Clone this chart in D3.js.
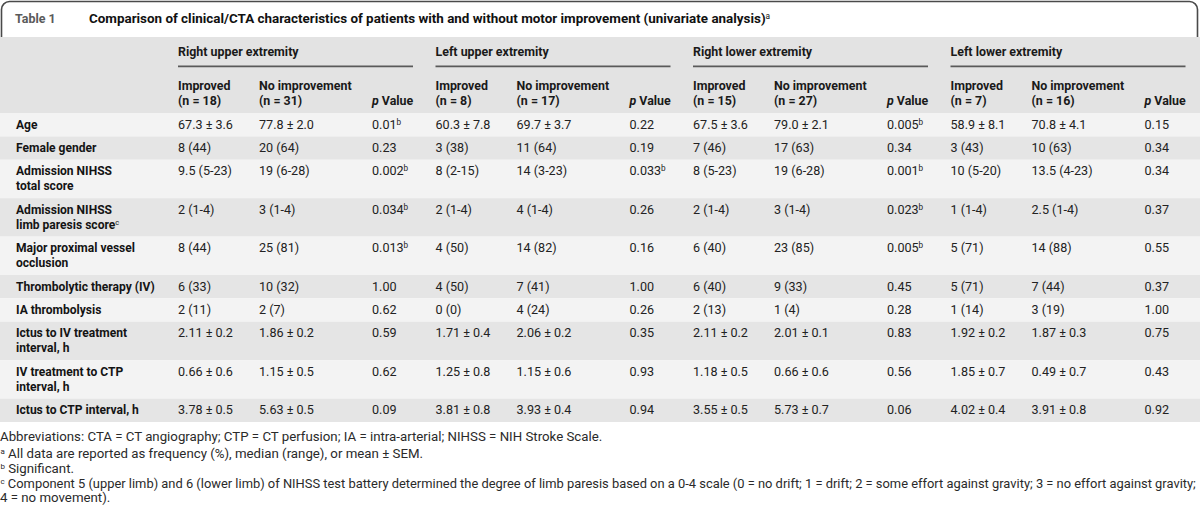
<!DOCTYPE html>
<html><head><meta charset="utf-8">
<script src="https://cdn.jsdelivr.net/npm/d3@7"></script>
<style>
html,body{margin:0;padding:0;background:#fff;}
svg{display:block;}
</style></head>
<body><svg id="chart" width="1200" height="513"></svg>
<script>
// ---------------- data ----------------
const tableLabel = "Table 1";
const titleText = "Comparison of clinical/CTA characteristics of patients with and without motor improvement (univariate analysis)";
const titleSup = "a";
const groups = ["Right upper extremity", "Left upper extremity", "Right lower extremity", "Left lower extremity"];
const groupImprovedN = [18, 8, 15, 7];
const groupNoImprovementN = [31, 17, 27, 16];
const subColumns = ["Improved", "No improvement", "p Value"];
const rowLabels = [
  ["Age"],
  ["Female gender"],
  ["Admission NIHSS", "total score"],
  ["Admission NIHSS", "limb paresis score"],
  ["Major proximal vessel", "occlusion"],
  ["Thrombolytic therapy (IV)"],
  ["IA thrombolysis"],
  ["Ictus to IV treatment", "interval, h"],
  ["IV treatment to CTP", "interval, h"],
  ["Ictus to CTP interval, h"]
];
const rowLabelSup = ["", "", "", "c", "", "", "", "", "", ""];
// each row: [improved, no improvement, p value]; "^b" marks significance
const rightUpper = [
  ["67.3 ± 3.6", "77.8 ± 2.0", "0.01^b"],
  ["8 (44)", "20 (64)", "0.23"],
  ["9.5 (5-23)", "19 (6-28)", "0.002^b"],
  ["2 (1-4)", "3 (1-4)", "0.034^b"],
  ["8 (44)", "25 (81)", "0.013^b"],
  ["6 (33)", "10 (32)", "1.00"],
  ["2 (11)", "2 (7)", "0.62"],
  ["2.11 ± 0.2", "1.86 ± 0.2", "0.59"],
  ["0.66 ± 0.6", "1.15 ± 0.5", "0.62"],
  ["3.78 ± 0.5", "5.63 ± 0.5", "0.09"]
];
const leftUpper = [
  ["60.3 ± 7.8", "69.7 ± 3.7", "0.22"],
  ["3 (38)", "11 (64)", "0.19"],
  ["8 (2-15)", "14 (3-23)", "0.033^b"],
  ["2 (1-4)", "4 (1-4)", "0.26"],
  ["4 (50)", "14 (82)", "0.16"],
  ["4 (50)", "7 (41)", "1.00"],
  ["0 (0)", "4 (24)", "0.26"],
  ["1.71 ± 0.4", "2.06 ± 0.2", "0.35"],
  ["1.25 ± 0.8", "1.15 ± 0.6", "0.93"],
  ["3.81 ± 0.8", "3.93 ± 0.4", "0.94"]
];
const rightLower = [
  ["67.5 ± 3.6", "79.0 ± 2.1", "0.005^b"],
  ["7 (46)", "17 (63)", "0.34"],
  ["8 (5-23)", "19 (6-28)", "0.001^b"],
  ["2 (1-4)", "3 (1-4)", "0.023^b"],
  ["6 (40)", "23 (85)", "0.005^b"],
  ["6 (40)", "9 (33)", "0.45"],
  ["2 (13)", "1 (4)", "0.28"],
  ["2.11 ± 0.2", "2.01 ± 0.1", "0.83"],
  ["1.18 ± 0.5", "0.66 ± 0.6", "0.56"],
  ["3.55 ± 0.5", "5.73 ± 0.7", "0.06"]
];
const leftLower = [
  ["58.9 ± 8.1", "70.8 ± 4.1", "0.15"],
  ["3 (43)", "10 (63)", "0.34"],
  ["10 (5-20)", "13.5 (4-23)", "0.34"],
  ["1 (1-4)", "2.5 (1-4)", "0.37"],
  ["5 (71)", "14 (88)", "0.55"],
  ["5 (71)", "7 (44)", "0.37"],
  ["1 (14)", "3 (19)", "1.00"],
  ["1.92 ± 0.2", "1.87 ± 0.3", "0.75"],
  ["1.85 ± 0.7", "0.49 ± 0.7", "0.43"],
  ["4.02 ± 0.4", "3.91 ± 0.8", "0.92"]
];
const footnoteMarks = ["", "a", "b", "c", ""];
const footnoteTexts = [
  "Abbreviations: CTA = CT angiography; CTP = CT perfusion; IA = intra-arterial; NIHSS = NIH Stroke Scale.",
  "All data are reported as frequency (%), median (range), or mean ± SEM.",
  "Significant.",
  "Component 5 (upper limb) and 6 (lower limb) of NIHSS test battery determined the degree of limb paresis based on a 0-4 scale (0 = no drift; 1 = drift; 2 = some effort against gravity; 3 = no effort against gravity;",
  "4 = no movement)."
];

// ---------------- drawing ----------------
const W = 1200, H = 513;
const FONT = "Roboto, 'Liberation Sans', sans-serif";
const svg = d3.select("#chart");

function measure(text, weight, size) {
  const t = svg.append("text").attr("font-family", FONT).attr("font-weight", weight)
    .attr("font-size", size).text(text);
  const w = t.node().getComputedTextLength();
  t.remove();
  return w;
}
function fit(text, weight, target) { return 100 * target / measure(text, weight, 100); }

const titleSize = fit(titleText, 700, 677);
const headerSize = fit("Right upper extremity", 700, 120.7);
const labelSize = fit("Thrombolytic therapy (IV)", 700, 139);
const dataSize = fit("9.5 (5-23)", 400, 54);
const footSize = fit(footnoteTexts[0], 400, 603);

const groupData = [rightUpper, leftUpper, rightLower, leftLower];

// scales
const xGroup = d3.scaleBand().domain(groups).range([178, 178 + 4 * 257.5]);
const xSub = d3.scaleOrdinal().domain(subColumns).range([0, 81, 194]);
const rowUnits = rowLabels.map(l => l.length === 1 ? 1 : 1.644);
const cum = [0];
rowUnits.forEach((u, i) => cum.push(cum[i] + u));
const yRow = d3.scaleLinear().domain([0, cum[cum.length - 1]]).range([113, 422]);

// header background
svg.append("rect").attr("x", 0).attr("y", 37).attr("width", W).attr("height", 113 - 37).attr("fill", "#e3e3e3");

// row backgrounds
svg.selectAll("rect.row").data(rowLabels).join("rect").attr("class", "row")
  .attr("x", 0).attr("width", W)
  .attr("y", (d, i) => yRow(cum[i]))
  .attr("height", (d, i) => yRow(cum[i + 1]) - yRow(cum[i]))
  .attr("fill", (d, i) => i % 2 === 0 ? "#f3f3f3" : "#e5e5e5");

// title box
svg.append("path")
  .attr("d", "M1.5,37 V9.5 A8,8 0 0 1 9.5,1.5 H1189.5 A8,8 0 0 1 1197.5,9.5 V37")
  .attr("fill", "none").attr("stroke", "#4a4a4a").attr("stroke-width", 1.6);
svg.append("text").attr("x", 15).attr("y", 23).attr("font-family", FONT).attr("font-weight", 700)
  .attr("font-size", headerSize).attr("fill", "#5a5a5a").text(tableLabel);
const tt = svg.append("text").attr("x", 89).attr("y", 23).attr("font-family", FONT).attr("font-weight", 700)
  .attr("font-size", titleSize).attr("fill", "#111");
tt.append("tspan").text(titleText);
tt.append("tspan").attr("font-size", titleSize * 0.62).attr("dy", -4.5).attr("font-weight", 400).text(titleSup);

// group headers
const gh = svg.selectAll("g.gh").data(groups).join("g").attr("class", "gh")
  .attr("transform", d => `translate(${xGroup(d)},0)`);
gh.append("text").attr("x", 0).attr("y", 56).attr("font-family", FONT).attr("font-weight", 700)
  .attr("font-size", headerSize).attr("fill", "#1a1a1a").text(d => d);
gh.append("line").attr("x1", 0).attr("x2", 235).attr("y1", 66.3).attr("y2", 66.3)
  .attr("stroke", "#5a5a5a").attr("stroke-width", 1.8);
gh.each(function (d, gi) {
  const g = d3.select(this);
  const mk = (x, y) => g.append("text").attr("x", x).attr("y", y).attr("font-family", FONT)
    .attr("font-weight", 700).attr("font-size", headerSize).attr("fill", "#1a1a1a");
  mk(xSub("Improved"), 90).text("Improved");
  mk(xSub("Improved"), 104.5).text(`(n = ${groupImprovedN[gi]})`);
  mk(xSub("No improvement"), 90).text("No improvement");
  mk(xSub("No improvement"), 104.5).text(`(n = ${groupNoImprovementN[gi]})`);
  const p = mk(xSub("p Value"), 104.5);
  p.append("tspan").attr("font-style", "italic").text("p");
  p.append("tspan").text(" Value");
});

// row labels
rowLabels.forEach((lines, i) => {
  const top = yRow(cum[i]);
  lines.forEach((ln, j) => {
    const t = svg.append("text").attr("x", 16).attr("y", top + 15.5 + j * 15)
      .attr("font-family", FONT).attr("font-weight", 700).attr("font-size", labelSize).attr("fill", "#141414");
    t.append("tspan").text(ln);
    if (j === lines.length - 1 && rowLabelSup[i]) {
      t.append("tspan").attr("font-size", labelSize * 0.62).attr("font-weight", 400).attr("dy", -4).text(rowLabelSup[i]);
    }
  });
});

// cells
groupData.forEach((rows, gi) => {
  rows.forEach((vals, ri) => {
    const top = yRow(cum[ri]);
    vals.forEach((v, ci) => {
      const parts = v.split("^");
      const t = svg.append("text").attr("x", xGroup(groups[gi]) + xSub(subColumns[ci]))
        .attr("y", top + 15.5).attr("font-family", FONT).attr("font-size", dataSize).attr("fill", "#222");
      t.append("tspan").text(parts[0]);
      if (parts[1]) t.append("tspan").attr("font-size", dataSize * 0.65).attr("dy", -4).text(parts[1]);
    });
  });
});

// footnotes
const footY = [441, 457.5, 472.5, 487.5, 502];
footnoteTexts.forEach((txt, i) => {
  const t = svg.append("text").attr("x", footnoteMarks[i] ? 0.5 : 0).attr("y", footY[i])
    .attr("font-family", FONT).attr("font-size", footSize).attr("fill", "#2a2a2a");
  let body;
  if (footnoteMarks[i]) {
    t.append("tspan").attr("font-size", footSize * 0.6).attr("dy", -4).text(footnoteMarks[i]);
    body = t.append("tspan").attr("dy", 4).text(" " + txt);
  } else {
    body = t.append("tspan").text(txt);
  }
  const bb = t.node().getBBox();
  const right = bb.x + bb.width;
  if (right > 1196) {
    const bw = body.node().getComputedTextLength();
    const avail = bw - (right - 1196);
    body.attr("font-size", footSize * avail / bw);
  }
});
</script>
</body></html>
